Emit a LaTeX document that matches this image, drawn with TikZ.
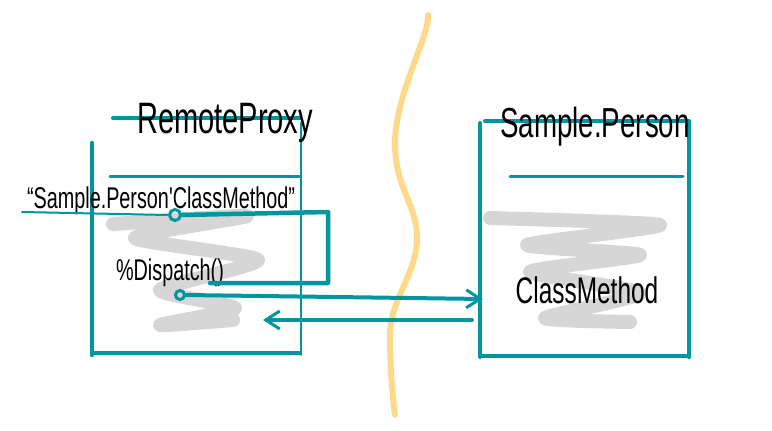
\documentclass[tikz,border=0pt]{standalone}
\usepackage{fontspec}
\newfontfamily\hand[FakeStretch=0.66]{Liberation Sans}
\usetikzlibrary{arrows.meta}

\definecolor{proxyteal}{RGB}{0,150,160}
\definecolor{scribble}{RGB}{214,214,214}
\definecolor{divider}{RGB}{255,217,138}

\tikzset{
	sketch/.style={draw=proxyteal, line width=4pt, line cap=round},
	thinsketch/.style={draw=proxyteal, line width=2pt, line cap=round},
	scrib/.style={draw=scribble, line width=14pt, line cap=round, line join=round},
	label/.style={font=\hand, inner sep=0pt, anchor=base},
	loop/.style={circle, draw=proxyteal, line width=3pt, inner sep=0pt},
	barb/.style={-{Straight Barb[length=14pt,width=18pt,line width=3pt]}},
}

\begin{document}
\begin{tikzpicture}[x=1pt, y=-1pt]
		\useasboundingbox (0,0) rectangle (772,431);
		
		%process boundary
		\draw[divider, line width=6pt, line cap=round] (428,15) .. controls (430,35) and (395,95) .. (395,143)
			.. controls (395,190) and (418,205) .. (417,240)
			.. controls (416,275) and (390,300) .. (390,335)
			.. controls (390,370) and (393,400) .. (395,415);
		
		%scribbles
		\draw[scrib] plot[smooth, tension=0.35] coordinates {(113,224) (247,216) (135,238) (258,260) (160,290) (235,308) (160,325) (233,320)};
		\draw[scrib] plot[smooth, tension=0.35] coordinates {(490,218) (660,225) (527,245) (640,255) (530,272) (640,293) (545,318) (630,322)};
		
		%RemoteProxy box
		\draw[sketch] (113,118) -- (300,118);
		\draw[sketch, line width=4.5pt] (92,143) -- (92,355);
		\draw[thinsketch] (301,123) -- (301,355);
		\draw[sketch, line width=3pt] (110,176) -- (300,176);
		\draw[sketch, line width=4.5pt] (92,353) -- (300,353);
		\node[label, font=\hand\fontsize{44}{44}\selectfont] (proxytitle) at (225,133){RemoteProxy};
		
		%Sample.Person box
		\draw[sketch] (485,121) -- (689,121);
		\draw[sketch] (480,123) -- (480,357);
		\draw[sketch, line width=4.5pt] (689,123) -- (689,357);
		\draw[sketch, line width=4.5pt] (480,356) -- (689,356);
		\draw[sketch, line width=3pt] (510,176) -- (683,176);
		\node[label, font=\hand\fontsize{42}{42}\selectfont] (persontitle) at (595,137){Sample.Person};
		
		%call and dispatch
		\node[label, font=\hand\fontsize{30}{30}\selectfont] (callmsg) at (161,208){“Sample.Person'ClassMethod”};
		\node[label, font=\hand\fontsize{30}{30}\selectfont] (dispatch) at (170,280){\%Dispatch()};
		\node[label, font=\hand\fontsize{37}{37}\selectfont] (method) at (587,303){ClassMethod};
		
		\coordinate (callstart) at (22,212);
		\coordinate (turnA) at (328,212);
		\coordinate (turnB) at (328,283);
		\coordinate (callend) at (210,283);
		\coordinate (personin) at (483,299);
		\coordinate (personout) at (472,320);
		\coordinate (proxyin) at (263,320);
		
		\node[loop, minimum size=11pt] (loopA) at (175,215){};
		\node[loop, minimum size=9pt] (loopB) at (180,295){};
		
		\draw[thinsketch] (callstart) -- (loopA.west);
		\draw[sketch, line width=4.5pt, line join=round] (loopA.east) -- (turnA) -- (turnB) -- (callend);
		\draw[sketch, barb] (loopB.east) -- (personin);
		\draw[sketch, barb] (personout) -- (proxyin);
\end{tikzpicture}
\end{document}
